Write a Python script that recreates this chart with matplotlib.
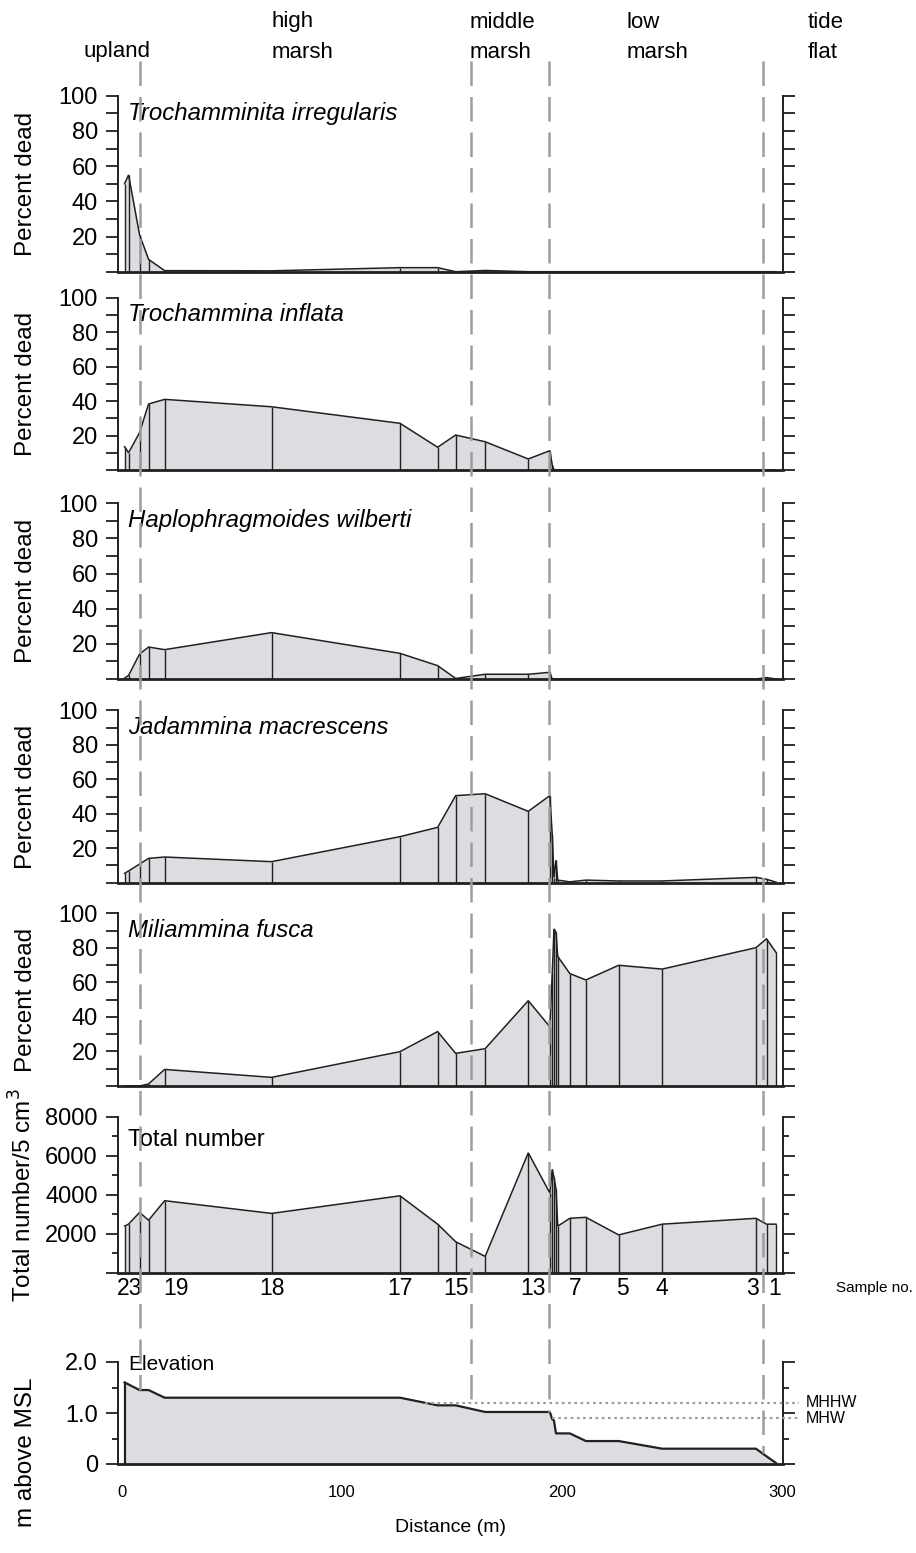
import numpy as np
import matplotlib
matplotlib.use("Agg")
import matplotlib.pyplot as plt
import matplotlib.transforms as mtransforms
from matplotlib.lines import Line2D

plt.rcParams['font.family'] = ['Liberation Sans', 'DejaVu Sans']

# samples along the transect, landward (23) to seaward (1)
sample_no = [23, 22, 21, 20, 19, 18, 17, 16, 15, 14, 13, 12,
             11, 10, 9, 8, 7, 6, 5, 4, 3, 2, 1]
distance = [1.2, 3.0, 8.0, 12.1, 19.4, 68.0, 126.4, 143.5, 151.7, 165.1, 184.7, 194.5,
            195.6, 196.4, 197.3, 198.1, 203.6, 210.9, 225.8, 245.6, 288.2, 293.0, 297.3]

# percent dead per species
troch_irr = [50, 55, 21, 7, 0.6, 0.5, 2.3, 2.3, 0, 0.7, 0, 0,
             0, 0, 0, 0, 0, 0, 0, 0, 0, 0, 0]
troch_inf = [13.5, 10, 21.7, 38.3, 41, 36.7, 27.1, 13.2, 20.3, 16.4, 6.4, 11.2,
             3, 0, 0, 0, 0, 0, 0, 0, 0, 0, 0]
haplo = [0.5, 2, 14.2, 18.2, 16.7, 26.4, 14.6, 7.6, 0.3, 2.7, 2.7, 3.8,
         0, 0, 0, 0, 0, 0, 0, 0, 0, 0.8, 0]
jadam = [5.4, 6.8, 10.8, 14.1, 14.9, 12.2, 26.7, 32.1, 50.5, 51.6, 41.4, 50.5,
         28, 3, 13, 1.5, 0.5, 1.5, 1, 1, 3.1, 2, 0.3]
milia = [0, 0, 0, 1.2, 9.6, 5.0, 19.9, 31.5, 18.9, 21.6, 49.4, 34.3,
         65, 91, 89, 75, 65.1, 61.4, 69.9, 67.7, 80.1, 85.2, 77.4]

# total number per 5 cm3
total = [2400, 2500, 3100, 2700, 3700, 3050, 3950, 2500, 1600, 850, 6150, 4100,
         5300, 4900, 4300, 2400, 2800, 2850, 1950, 2500, 2800, 2500, 2500]

# surface elevation (m above MSL)
elevation = [1.6, 1.56, 1.45, 1.45, 1.3, 1.3, 1.3, 1.15, 1.15, 1.02, 1.02, 1.02,
             0.88, 0.85, 0.6, 0.6, 0.6, 0.45, 0.45, 0.3, 0.3, 0.15, 0.02]

species = ["Trochamminita irregularis", "Trochammina inflata",
           "Haplophragmoides wilberti", "Jadammina macrescens", "Miliammina fusca"]
# sample numbers written under the total-number panel, with their x (m)
sample_labels = [23, 19, 18, 17, 15, 13, 7, 5, 4, 3, 1]
sample_label_x = [3.6, 24.5, 68.0, 126.4, 151.7, 186.8, 205.9, 227.3, 245.6, 286.4, 296.8]
zone_bounds = [8.2, 158.5, 194.1, 291.2]
zone_row1 = [("high", 68.2), ("middle", 158.2), ("low", 229.5), ("tide", 311.8)]
zone_row2 = [("upland", -17.7), ("marsh", 68.2), ("marsh", 158.2), ("marsh", 229.5), ("flat", 311.8)]
mhhw, mhw = 1.2, 0.9

INK = '#231f20'
FILL = '#dcdde0'
DASH = '#9d9d9d'

W, H = 916, 1553
fig = plt.figure(figsize=(W / 100, H / 100), dpi=100)

# panel rows in pixels (top, bottom)
rows = [(95.7, 271.7), (297.7, 470), (503.3, 679), (710.3, 882.7),
        (913.3, 1086), (1116.7, 1273), (1362, 1464)]
left_px, right_px = 118, 783
XLIM = (-1.8, 300.5)

axes = []
for top, bot in rows:
    ax = fig.add_axes([left_px / W, 1 - bot / H, (right_px - left_px) / W, (bot - top) / H])
    ax.set_xlim(*XLIM)
    ax.patch.set_alpha(0)
    ax.spines['top'].set_visible(False)
    for s in ('left', 'right'):
        ax.spines[s].set_linewidth(1.4)
        ax.spines[s].set_color(INK)
    ax.spines['bottom'].set_linewidth(2.0)
    ax.spines['bottom'].set_color(INK)
    axes.append(ax)


def draw_profile(ax, y, lw=1.1):
    ax.fill_between(distance, 0, y, color=FILL, lw=0, zorder=1)
    ax.plot(distance, y, color=INK, lw=lw, zorder=2, solid_joinstyle='miter')
    ax.vlines(distance, 0, y, color=INK, lw=1.0, zorder=2)


for ax, name, vals in zip(axes[:5], species, [troch_irr, troch_inf, haplo, jadam, milia]):
    draw_profile(ax, vals)
    ax.set_ylim(0, 100)
    ticks = list(range(0, 101, 10))
    ax.set_yticks(ticks)
    ax.set_yticklabels([str(t) if t % 20 == 0 and t > 0 else '' for t in ticks])
    ax.tick_params(axis='y', direction='out', length=8.5, width=1.3, color=INK,
                   left=True, right=True, labelsize=17, pad=6)
    ax.tick_params(axis='x', bottom=False, labelbottom=False)
    ax.set_ylabel('Percent dead', fontsize=17.5)
    ax.yaxis.set_label_coords(-0.122, 0.5)
    ax.text(0.015, 0.9, name, transform=ax.transAxes, fontsize=17.3,
            style='italic', va='center', ha='left')

# total number panel
ax6 = axes[5]
draw_profile(ax6, total)
ax6.set_ylim(0, 8000)
ax6.set_yticks(range(0, 8001, 2000))
ax6.set_yticklabels(['', '2000', '4000', '6000', '8000'])
ax6.set_yticks(range(1000, 8000, 2000), minor=True)
ax6.tick_params(axis='y', which='major', direction='out', length=8.5, width=1.3,
                color=INK, left=True, right=True, labelsize=17, pad=6)
ax6.tick_params(axis='y', which='minor', direction='out', length=4, width=1.3,
                color=INK, left=True, right=True)
ax6.tick_params(axis='x', bottom=False, labelbottom=False)
ax6.set_ylabel('Total number/5 cm$^3$', fontsize=17.5)
ax6.yaxis.set_label_coords(-0.122, 0.5)
ax6.text(0.015, 0.85, 'Total number', transform=ax6.transAxes, fontsize=17,
         va='center', ha='left')
lab_tr = mtransforms.blended_transform_factory(ax6.transData, ax6.transAxes)
for n, x in zip(sample_labels, sample_label_x):
    ax6.text(x, -0.096, str(n), transform=lab_tr, fontsize=16.5, ha='center', va='center')
fig.text(836 / W, 1 - 1288 / H, 'Sample no.', fontsize=11, va='center', ha='left')

# elevation panel
ax7 = axes[6]
ax7.fill_between(distance, 0, elevation, color=FILL, lw=0, zorder=1)
ax7.plot(distance, elevation, color=INK, lw=1.6, zorder=2)
ax7.vlines(distance[0], 0, elevation[0], color=INK, lw=1.6, zorder=2)
ax7.set_ylim(0, 2.0)
ax7.set_yticks([0, 1.0, 2.0])
ax7.set_yticklabels(['0', '1.0', '2.0'])
ax7.set_yticks([0.5, 1.5], minor=True)
ax7.tick_params(axis='y', which='major', direction='out', length=8.5, width=1.3,
                color=INK, left=True, right=True, labelsize=17, pad=6)
ax7.tick_params(axis='y', which='minor', direction='out', length=4, width=1.3,
                color=INK, left=True, right=True)
ax7.set_xticks([0, 100, 200, 300])
ax7.tick_params(axis='x', length=0, labelsize=12, pad=15)
ax7.set_xlabel('Distance (m)', fontsize=14, labelpad=14)
ax7.set_ylabel('m above MSL', fontsize=17.5)
ax7.yaxis.set_label_coords(-0.122, 0.12)
ax7.text(0.015, 0.98, 'Elevation', transform=ax7.transAxes, fontsize=15,
         va='center', ha='left')

# tidal datum lines start where the marsh surface drops below them
rev_d = np.array(distance)[::-1]
rev_e = np.array(elevation)[::-1]
x_end = 308
for level, name in ((mhhw, 'MHHW'), (mhw, 'MHW')):
    x0 = np.interp(level, rev_e, rev_d)
    ax7.plot([x0, x_end], [level, level], color=DASH, lw=1.6,
             linestyle=(0, (1.2, 1.6)), clip_on=False, zorder=3)
    ax7.text(x_end + 3, level, name, fontsize=11.5, va='center', ha='left')

# zone boundaries running down through all panels to the marsh surface
inv = fig.transFigure.inverted()
top_frac = 1 - 61 / H
for xb in zone_bounds:
    ez = float(np.interp(xb, distance, elevation))
    fx, fy = inv.transform(ax7.transData.transform((xb, ez)))
    fig.add_artist(Line2D([fx, fx], [top_frac, fy], transform=fig.transFigure,
                          color=DASH, lw=1.8, linestyle=(0, (9.8, 4.4)), zorder=10))

# zone names above the panels
ztr = mtransforms.blended_transform_factory(axes[0].transData, fig.transFigure)
for name, x in zone_row1:
    fig.text(x, 1 - 22 / H, name, transform=ztr, fontsize=16, ha='left', va='center')
for name, x in zone_row2:
    fig.text(x, 1 - 52 / H, name, transform=ztr, fontsize=16, ha='left', va='center')

fig.savefig('out.png', dpi=100)
